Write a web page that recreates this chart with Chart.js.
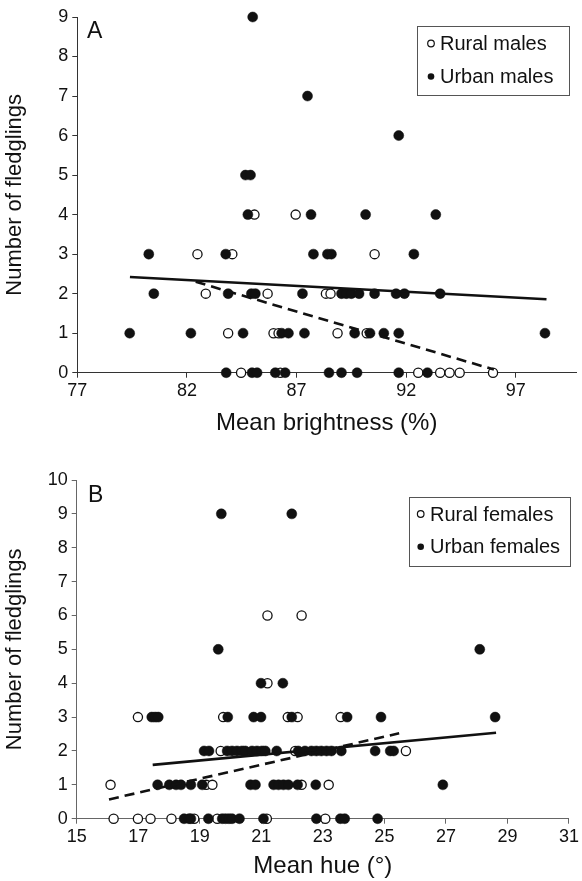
<!DOCTYPE html>
<html><head><meta charset="utf-8">
<script src="https://cdn.jsdelivr.net/npm/chart.js@4"></script>
<style>
html,body{margin:0;padding:0;background:#fff;width:582px;height:881px;overflow:hidden}
#wa{position:absolute;left:0;top:0;width:582px;height:438px}
#wb{position:absolute;left:0;top:440px;width:582px;height:441px}
</style></head><body>
<div id="wa"><canvas id="ca" width="582" height="438"></canvas></div>
<div id="wb"><canvas id="cb" width="582" height="441"></canvas></div>
<script>
// ---------- Panel A data (males) ----------
const ruralMalesX = [85.08, 86.96, 82.48, 84.07, 90.56, 82.86, 85.68, 88.34, 88.55, 83.88, 85.95, 86.18, 88.87, 90.2, 84.47, 86.26, 92.55, 93.55, 93.98, 94.44, 95.96];
const ruralMalesY = [4, 4, 3, 3, 3, 2, 2, 2, 2, 1, 1, 1, 1, 1, 0, 0, 0, 0, 0, 0, 0];
const urbanMalesX = [85.0, 87.5, 91.66, 84.67, 84.9, 84.78, 87.66, 90.15, 93.35,
  80.26, 83.77, 87.77, 88.41, 88.59, 92.35,
  80.49, 83.88, 84.94, 85.12, 87.27, 89.05, 89.27, 89.5, 89.85, 90.56, 91.54, 91.92, 93.55,
  79.39, 82.18, 84.56, 86.32, 86.63, 87.36, 89.65, 90.35, 90.98, 91.66, 98.33,
  83.79, 84.97, 85.2, 86.03, 86.48, 88.48, 89.05, 89.76, 91.66, 92.97];
const urbanMalesY = [9, 7, 6, 5, 5, 4, 4, 4, 4,
  3, 3, 3, 3, 3, 3,
  2, 2, 2, 2, 2, 2, 2, 2, 2, 2, 2, 2, 2,
  1, 1, 1, 1, 1, 1, 1, 1, 1, 1, 1,
  0, 0, 0, 0, 0, 0, 0, 0, 0, 0];
const urbanMalesFitX = [79.4, 98.4];
const urbanMalesFitY = [2.42, 1.86];
const ruralMalesFitX = [82.4, 96.0];
const ruralMalesFitY = [2.3, 0.08];
const brightnessTicks = [77, 82, 87, 92, 97];

// ---------- Panel B data (females) ----------
const ruralFemalesX = [21.2, 22.31, 21.2, 16.99, 19.76, 21.86, 22.18, 23.58, 19.68, 22.1, 25.7,
  16.1, 19.21, 19.41, 22.31, 23.19, 16.2, 16.99, 17.4, 18.08, 18.82, 19.57, 21.18, 23.08];
const ruralFemalesY = [6, 6, 4, 3, 3, 3, 3, 3, 2, 2, 2, 1, 1, 1, 1, 1, 0, 0, 0, 0, 0, 0, 0, 0];
const urbanFemalesX = [19.7, 21.99, 19.6, 28.1, 20.99, 21.7,
  17.44, 17.55, 17.65, 19.91, 20.75, 20.99, 21.99, 23.79, 24.89, 28.6,
  19.14, 19.3, 19.89, 20.05, 20.21, 20.37, 20.48, 20.7, 20.86, 21.02, 21.13, 21.5, 22.2, 22.42, 22.63, 22.79, 22.95, 23.12, 23.28, 23.6, 24.7, 25.19, 25.3,
  17.63, 18.01, 18.23, 18.39, 18.71, 19.08, 20.65, 20.81, 21.4, 21.56, 21.72, 21.88, 22.18, 22.77, 26.9,
  18.49, 18.65, 18.71, 19.28, 19.73, 19.84, 19.95, 20.05, 20.29, 21.07, 22.79, 23.57, 23.71, 24.78];
const urbanFemalesY = [9, 9, 5, 5, 4, 4,
  3, 3, 3, 3, 3, 3, 3, 3, 3, 3,
  2, 2, 2, 2, 2, 2, 2, 2, 2, 2, 2, 2, 2, 2, 2, 2, 2, 2, 2, 2, 2, 2, 2,
  1, 1, 1, 1, 1, 1, 1, 1, 1, 1, 1, 1, 1, 1, 1,
  0, 0, 0, 0, 0, 0, 0, 0, 0, 0, 0, 0, 0, 0];
const urbanFemalesFitX = [17.47, 28.63];
const urbanFemalesFitY = [1.59, 2.54];
const ruralFemalesFitX = [16.05, 25.48];
const ruralFemalesFitY = [0.57, 2.52];
const hueTicks = [15, 17, 19, 21, 23, 25, 27, 29, 31];

// ---------- helpers ----------
const FONT = '"Liberation Sans", Arial, Helvetica, sans-serif';
Chart.defaults.font.family = FONT;
Chart.defaults.color = '#111';
const pts = (xs, ys) => xs.map((x, i) => ({x: x, y: ys[i]}));

function hollowSet(label, xs, ys) {
  return {type: 'scatter', label, data: pts(xs, ys), pointRadius: 4.6, pointHoverRadius: 4.6,
    pointBackgroundColor: '#fff', pointBorderColor: '#111', pointBorderWidth: 1.3,
    showLine: false, clip: false, order: 2, legendItem: true, hollow: true};
}
function filledSet(label, xs, ys) {
  return {type: 'scatter', label, data: pts(xs, ys), pointRadius: 5, pointHoverRadius: 5,
    pointBackgroundColor: '#111', pointBorderColor: '#111', pointBorderWidth: 0.5,
    showLine: false, clip: false, order: 1, legendItem: true, hollow: false};
}
function fitSet(xs, ys, dashed) {
  return {type: 'line', label: '', data: pts(xs, ys), pointRadius: 0, borderColor: '#111',
    borderWidth: 2.6, borderDash: dashed ? [10, 6] : [], fill: false, clip: false, order: 0, legendItem: false};
}

const boxLegend = {
  id: 'boxLegend',
  afterDraw(chart, args, o) {
    const ctx = chart.ctx;
    ctx.save();
    ctx.fillStyle = '#111';
    ctx.textAlign = 'left';
    ctx.textBaseline = 'alphabetic';
    ctx.font = '23px ' + FONT;
    ctx.fillText(o.letter, o.letterX, o.letterY);
    ctx.strokeStyle = '#555';
    ctx.lineWidth = 1;
    ctx.strokeRect(o.x + 0.5, o.y + 0.5, o.w, o.h);
    ctx.font = o.fontSize + 'px ' + FONT;
    ctx.textBaseline = 'middle';
    const items = chart.data.datasets.filter(d => d.legendItem);
    items.forEach((d, i) => {
      const cy = o.y + o.firstRow + i * o.rowH;
      ctx.beginPath();
      ctx.arc(o.markerX, cy, 3.3, 0, Math.PI * 2);
      if (d.hollow) {
        ctx.fillStyle = '#fff'; ctx.fill();
        ctx.lineWidth = 1.2; ctx.strokeStyle = '#111'; ctx.stroke();
      } else {
        ctx.fillStyle = '#111'; ctx.fill();
      }
      ctx.fillStyle = '#111';
      ctx.fillText(d.label, o.textX, cy + 1);
    });
    ctx.restore();
  }
};

function axisCommon(color) {
  return {
    grid: {display: true, drawOnChartArea: false, drawTicks: true, tickLength: 5, color: color, lineWidth: 1},
    border: {display: true, color: color, width: 1},
  };
}

function makeChart(id, cfg) {
  return new Chart(document.getElementById(id), {
    data: {datasets: cfg.datasets},
    options: {
      responsive: false, animation: false, events: [],
      layout: {padding: cfg.padding},
      plugins: {legend: {display: false}, tooltip: {enabled: false}, title: {display: false}, boxLegend: cfg.legend},
      scales: {
        x: Object.assign(axisCommon(cfg.axisColor), {
          type: 'linear', min: cfg.xMin, max: cfg.xMax,
          ticks: {font: {size: 18}, padding: 3, maxRotation: 0, color: '#111', autoSkip: false},
          afterBuildTicks: s => { s.ticks = cfg.xTicks.map(v => ({value: v})); },
          afterFit: s => { s.height = cfg.xHeight; },
          title: {display: true, text: cfg.xTitle, font: {size: 24}, padding: {top: 0, bottom: 0}, color: '#111'}
        }),
        y: Object.assign(axisCommon(cfg.axisColor), {
          type: 'linear', min: cfg.yMin, max: cfg.yMax,
          ticks: {stepSize: 1, font: {size: 18}, padding: 4, color: '#111', autoSkip: false},
          afterFit: s => { s.width = cfg.yWidth; },
          title: {display: true, text: 'Number of fledglings', font: {size: 22}, padding: {top: 2, bottom: 0}, color: '#111'}
        })
      }
    },
    plugins: [boxLegend]
  });
}

makeChart('ca', {
  datasets: [
    fitSet(urbanMalesFitX, urbanMalesFitY, false),
    fitSet(ruralMalesFitX, ruralMalesFitY, true),
    hollowSet('Rural males', ruralMalesX, ruralMalesY),
    filledSet('Urban males', urbanMalesX, urbanMalesY)
  ],
  padding: {top: 17, right: 2.4, bottom: 0, left: 0},
  xMin: 77, xMax: 99.75, xTicks: brightnessTicks,
  xTitle: 'Mean brightness (%)',
  yMin: 0, yMax: 9,
  xHeight: 438 - 372.7, yWidth: 77.3,
  axisColor: '#333',
  legend: {letter: 'A', letterX: 87, letterY: 38, x: 417, y: 26, w: 152, h: 69,
    firstRow: 17.5, rowH: 33, markerX: 431, textX: 440, fontSize: 20}
});

makeChart('cb', {
  datasets: [
    fitSet(urbanFemalesFitX, urbanFemalesFitY, false),
    fitSet(ruralFemalesFitX, ruralFemalesFitY, true),
    hollowSet('Rural females', ruralFemalesX, ruralFemalesY),
    filledSet('Urban females', urbanFemalesX, urbanFemalesY)
  ],
  padding: {top: 40, right: 9.3, bottom: 0, left: 0},
  xMin: 15, xMax: 31, xTicks: hueTicks,
  xTitle: 'Mean hue (°)',
  yMin: 0, yMax: 10,
  xHeight: 441 - 378.7, yWidth: 76.7,
  axisColor: '#666',
  legend: {letter: 'B', letterX: 88, letterY: 62, x: 409, y: 57, w: 161, h: 69,
    firstRow: 17, rowH: 32.7, markerX: 420.7, textX: 430, fontSize: 20}
});
</script>
</body></html>
